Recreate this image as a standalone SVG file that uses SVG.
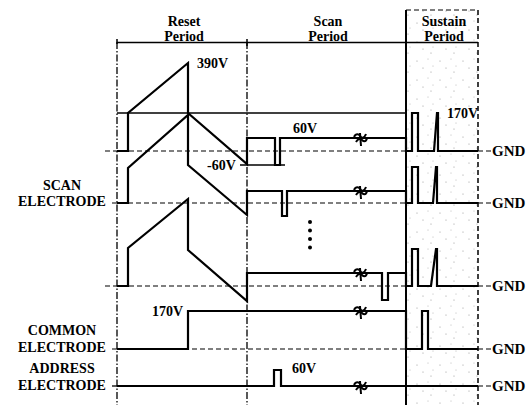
<svg xmlns="http://www.w3.org/2000/svg" width="530" height="405" viewBox="0 0 530 405">
<style>
text{font-family:"Liberation Serif","Times New Roman",serif;font-weight:bold;fill:#000}
.t{font-size:14px;text-anchor:middle}
.lbl{font-size:14px;text-anchor:middle}
.v{font-size:14px}
.g{font-size:15px}
.w{fill:none;stroke:#000;stroke-width:2.2;stroke-linejoin:miter}
.ref{fill:none;stroke:#000;stroke-width:1.3}
.dash{fill:none;stroke:#000;stroke-width:1.2;stroke-dasharray:5 3}
.dd{fill:none;stroke:#000;stroke-width:1.3;stroke-dasharray:7 2 1.5 2}
.brk{fill:none;stroke:#000;stroke-width:2}
</style>
<defs>
<pattern id="stip" width="23" height="19" patternUnits="userSpaceOnUse">
<rect width="23" height="19" fill="#ffffff"/>
<circle cx="3" cy="4" r="0.6" fill="#999"/>
<circle cx="14" cy="2" r="0.5" fill="#aaa"/>
<circle cx="9" cy="11" r="0.6" fill="#999"/>
<circle cx="19" cy="9" r="0.5" fill="#aaa"/>
<circle cx="17" cy="15" r="0.6" fill="#999"/>
</pattern>
<g id="squig">
<path class="brk" d="M-6,-1 C-4,-5 -1,-4 0,-2 S4,1 6,-4"/>
<path class="brk" d="M-4,4 C-2,0 1,1 2,2 S6,5 7,0"/>
<path class="brk" d="M0,-5 L1,8"/>
</g>
</defs>
<rect width="530" height="405" fill="#fff"/>

<g id="sustain-zone">
<rect x="406" y="10" width="72" height="395" fill="url(#stip)"/>
<line x1="406" y1="10" x2="478" y2="10" class="dash"/>
<line x1="478" y1="10" x2="478" y2="405" class="dash" style="stroke-width:1.5"/>
<line x1="406" y1="10" x2="406" y2="405" stroke="#000" stroke-width="2"/>
</g>

<g id="header">
<line x1="117" y1="42.5" x2="478" y2="42.5" stroke="#000" stroke-width="1.6"/>
<line x1="117" y1="39" x2="117" y2="44" stroke="#000" stroke-width="1.5"/>
<line x1="247" y1="39" x2="247" y2="46" stroke="#000" stroke-width="1.5"/>
<text class="t" x="184" y="26">Reset</text>
<text class="t" x="184" y="41">Period</text>
<text class="t" x="328" y="26">Scan</text>
<text class="t" x="328" y="41">Period</text>
<text class="t" x="444" y="26">Sustain</text>
<text class="t" x="444" y="41">Period</text>
</g>

<g id="guides">
<line x1="117" y1="42" x2="117" y2="405" class="dd"/>
<line x1="247" y1="42" x2="247" y2="405" class="dd"/>
<line x1="105" y1="151" x2="406" y2="151" class="dash"/>
<line x1="112" y1="203" x2="406" y2="203" class="dash"/>
<line x1="105" y1="286" x2="406" y2="286" class="dash"/>
<line x1="112" y1="349" x2="406" y2="349" class="dash"/>
<line x1="478" y1="151" x2="491" y2="151" class="dash"/>
<line x1="478" y1="203" x2="491" y2="203" class="dash"/>
<line x1="478" y1="286" x2="491" y2="286" class="dash"/>
<line x1="478" y1="349" x2="491" y2="349" class="dash"/>
<line x1="478" y1="386" x2="491" y2="386" class="dash"/>
<line x1="112" y1="386" x2="117" y2="386" class="ref"/>
<line x1="117" y1="113" x2="406" y2="113" class="ref"/>
<line x1="240" y1="165" x2="285" y2="165" class="ref"/>
</g>

<g id="scan-line-1">
<path class="w" d="M117,151 H128 V113 L188,63 V113 L247,164 V138 H275 V165 H280 V138 H406 V151 H412 V113 H418 V151 H434 L437,113 H438 V151 H478"/>
</g>
<g id="scan-line-2">
<path class="w" d="M117,203 H128 V168 L188,115 V165 L247,215 V191 H282 V216 H287 V191 H406 V203 H412 V167 H418 V203 H433 L436,167 H437 V203 H478"/>
</g>
<g id="scan-line-n">
<path class="w" d="M117,286 H128 V248 L188,199 V250 L247,301 V273 H382 V300 H388 V273 H406 V286 H412 V249 H418 V286 H431 L436,249 H437 V286 H478"/>
</g>
<g id="common-electrode">
<path class="w" d="M117,349 H188 V311 H406 V349 H422 V311 H428 V349 H478"/>
</g>
<g id="address-electrode">
<path class="w" d="M117,386 H274 V370 H281 V386 H478"/>
</g>

<g id="breaks">
<use href="#squig" x="360" y="138"/>
<use href="#squig" x="360" y="191"/>
<use href="#squig" x="360" y="273"/>
<use href="#squig" x="360" y="311"/>
<use href="#squig" x="360" y="386"/>
</g>

<g id="ellipsis">
<circle cx="310" cy="222" r="2"/>
<circle cx="310" cy="230.5" r="2"/>
<circle cx="310" cy="239" r="2"/>
<circle cx="310" cy="247.5" r="2"/>
</g>

<g id="labels">
<text class="lbl" x="62" y="190">SCAN</text>
<text class="lbl" x="62" y="206">ELECTRODE</text>
<text class="lbl" x="62" y="335">COMMON</text>
<text class="lbl" x="62" y="352">ELECTRODE</text>
<text class="lbl" x="62" y="373">ADDRESS</text>
<text class="lbl" x="62" y="390">ELECTRODE</text>
<text class="v" x="197" y="68">390V</text>
<text class="v" x="207" y="170">-60V</text>
<text class="v" x="293" y="133">60V</text>
<text class="v" x="447" y="118">170V</text>
<text class="v" x="152" y="316">170V</text>
<text class="v" x="292" y="373">60V</text>
<text class="g" x="492" y="156">GND</text>
<text class="g" x="492" y="208">GND</text>
<text class="g" x="492" y="291">GND</text>
<text class="g" x="492" y="354">GND</text>
<text class="g" x="492" y="391">GND</text>
</g>
</svg>
